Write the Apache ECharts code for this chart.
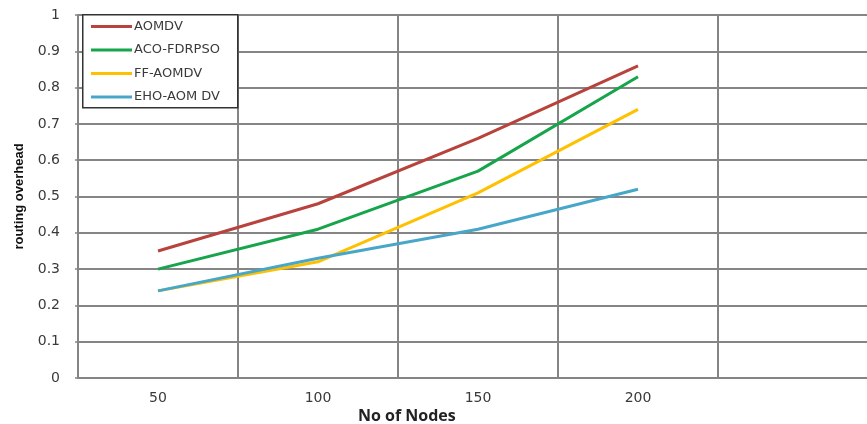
<!DOCTYPE html>
<html>
<head>
<meta charset="utf-8">
<script src="https://cdn.jsdelivr.net/npm/echarts@6/dist/echarts.min.js"></script>
<style>html,body{margin:0;padding:0;background:#fff;}#c{width:867px;height:424px;}</style>
</head>
<body>
<div id="c"></div>
<script>
const categories = ['50', '100', '150', '200', ''];
const seriesNames = ['AOMDV', 'ACO-FDRPSO', 'FF-AOMDV', 'EHO-AOMDV'];
const aomdv = [0.35, 0.48, 0.66, 0.86];
const acoFdrpso = [0.30, 0.41, 0.57, 0.83];
const ffAomdv = [0.24, 0.32, 0.51, 0.74];
const ehoAomdv = [0.24, 0.33, 0.41, 0.52];
const legendLabels = ['AOMDV', 'ACO-FDRPSO', 'FF-AOMDV', 'EHO-AOM DV'];
const colors = ['#b8433d', '#16a54a', '#ffc000', '#48a7c9'];
const values = [aomdv, acoFdrpso, ffAomdv, ehoAomdv];

const chart = echarts.init(document.getElementById('c'), null, {renderer: 'canvas'});
const gridColor = '#858585';
chart.setOption({
  animation: false,
  backgroundColor: '#ffffff',
  grid: {left: 78, top: 15, width: 800, bottom: 46, containLabel: false, outerBoundsMode: 'none'},
  title: {
    text: 'No of Nodes', left: 358, top: 408, padding: 0,
    textStyle: {fontFamily: 'Open Sans', fontWeight: 'bold', fontSize: 16, color: '#222'}
  },
  legend: {
    orient: 'vertical', left: 91, top: 20, padding: 0, itemGap: 10.5, z: 10,
    itemWidth: 41, itemHeight: 3, icon: 'rect',
    formatter: function (n) { return legendLabels[seriesNames.indexOf(n)]; },
    textStyle: {fontFamily: 'DejaVu Sans', fontSize: 13, color: '#3a3a3a', padding: [0, 0, 0, -3]},
    data: seriesNames
  },
  graphic: [{
    type: 'rect', left: 82, top: 14, z: 3,
    shape: {width: 155, height: 93},
    style: {fill: '#ffffff', stroke: '#333', lineWidth: 1.5}
  }],
  xAxis: {
    type: 'category', data: categories, boundaryGap: true,
    axisLine: {show: true, lineStyle: {color: gridColor, width: 2}},
    axisTick: {show: false},
    splitLine: {show: true, lineStyle: {color: gridColor, width: 2}},
    axisLabel: {fontFamily: 'DejaVu Sans', fontSize: 14, color: '#3a3a3a', margin: 13, interval: 0}
  },
  yAxis: {
    type: 'value', min: 0, max: 1, interval: 0.1,
    name: 'routing overhead', nameLocation: 'middle', nameGap: 52,
    nameTextStyle: {fontFamily: 'Liberation Sans', fontWeight: 'bold', fontSize: 13, color: '#111'},
    axisLine: {show: true, lineStyle: {color: gridColor, width: 2}},
    axisTick: {show: true, length: 3, lineStyle: {color: gridColor, width: 1.5}},
    splitLine: {show: true, lineStyle: {color: gridColor, width: 2}},
    axisLabel: {fontFamily: 'DejaVu Sans', fontSize: 14, color: '#3a3a3a', margin: 18,
      formatter: function (v) { return String(Math.round(v * 10) / 10); }}
  },
  series: seriesNames.map(function (n, i) {
    return {
      name: n, type: 'line', data: values[i], symbol: 'none',
      lineStyle: {color: colors[i], width: 3}, itemStyle: {color: colors[i]}
    };
  })
});
</script>
</body>
</html>
